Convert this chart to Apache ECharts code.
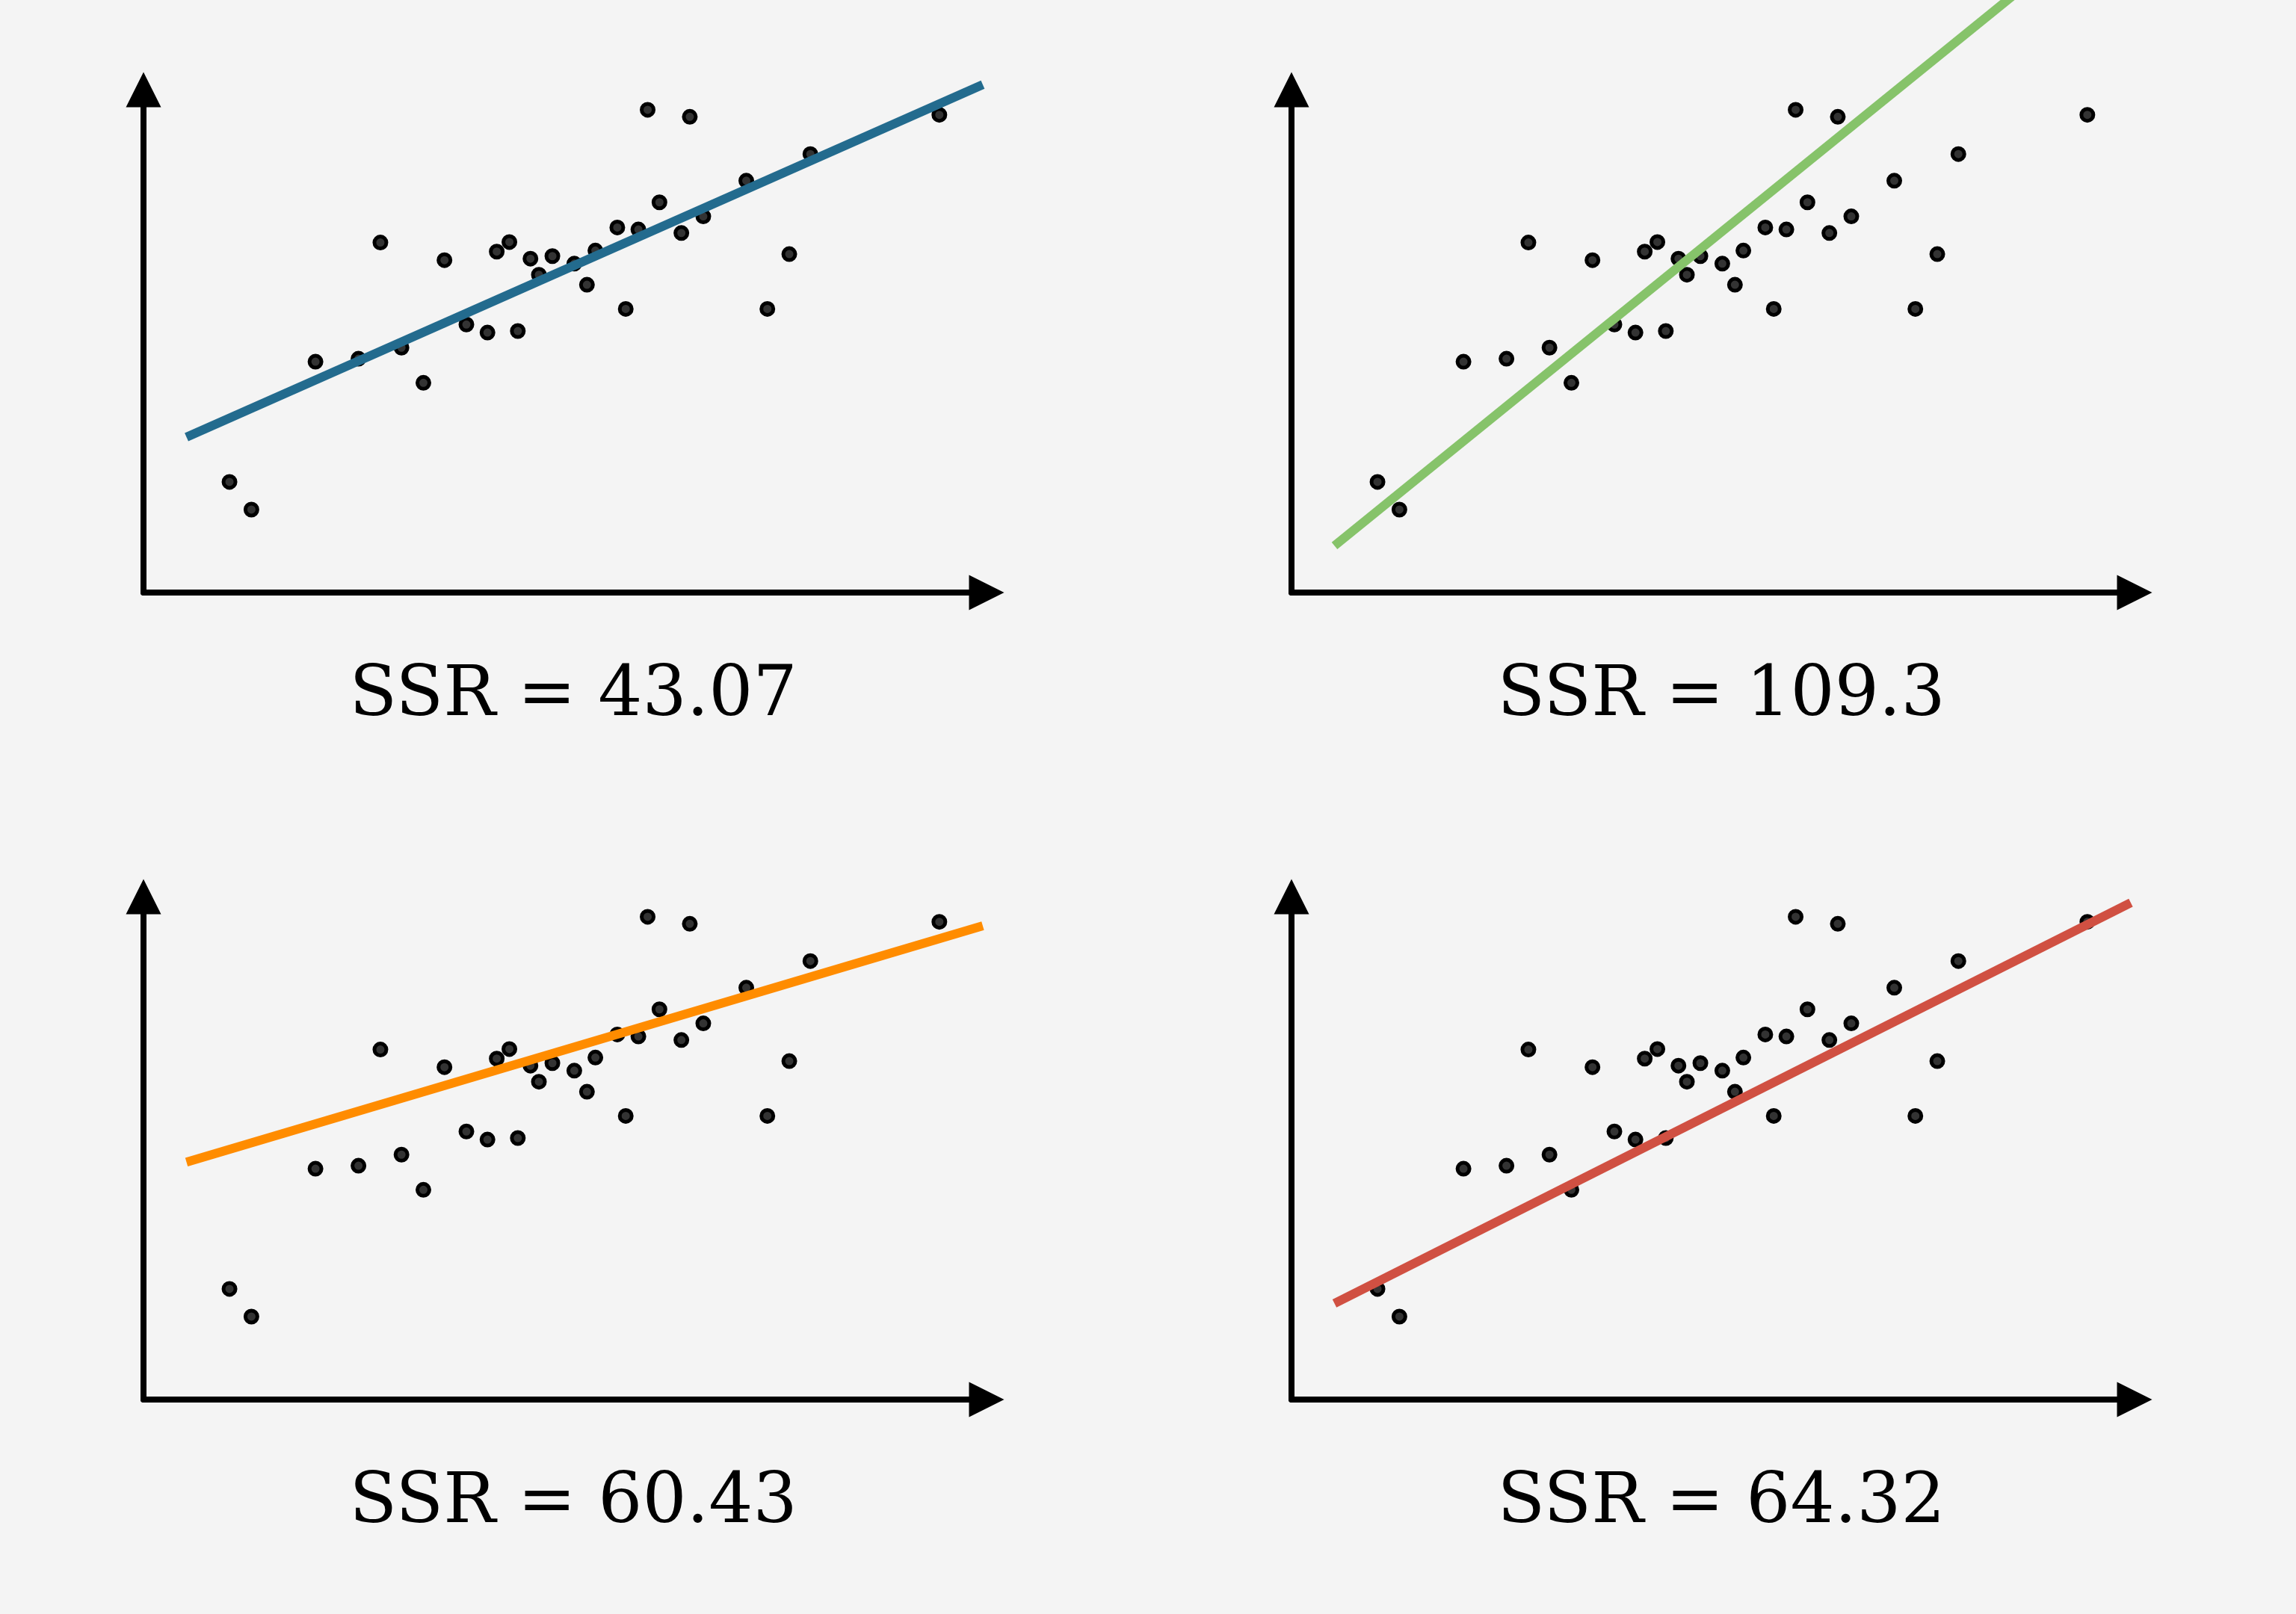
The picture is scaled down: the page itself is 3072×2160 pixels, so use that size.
<!DOCTYPE html>
<html lang="en">
<head>
<meta charset="UTF-8">
<title>Fitted lines and SSR</title>
<script src="https://cdn.jsdelivr.net/npm/echarts@6.0.0/dist/echarts.min.js"></script>
<style>
  html, body { margin: 0; padding: 0; background: #f4f4f4; }
  #main { width: 3072px; height: 2160px; }
</style>
</head>
<body>
<div id="main"></div>
<script type="text/javascript">
// the same 32 points are drawn in all four panels
const pointX = [1.02, 1.28, 2.04, 2.55, 2.81, 3.06, 3.32, 3.57, 3.83, 4.08, 4.19, 4.34, 4.44, 4.59, 4.69, 4.85,
                5.11, 5.26, 5.36, 5.62, 5.72, 5.87, 5.98, 6.12, 6.38, 6.48, 6.64, 7.15, 7.40, 7.66, 7.91, 9.44];
const pointY = [2.20, 1.65, 4.59, 4.65, 6.96, 4.87, 4.17, 6.61, 5.33, 5.17, 6.78, 6.97, 5.20, 6.64, 6.32, 6.69,
                6.54, 6.12, 6.80, 7.26, 5.64, 7.22, 9.60, 7.76, 7.15, 9.46, 7.48, 8.19, 5.64, 6.73, 8.72, 9.50];

// candidate lines: shared x range, start / end y for each panel
const fitX = [0.51, 9.955];
const fitStartY = [3.09, 0.93, 4.72, 1.91];
const fitEndY = [10.10, 13.77, 9.42, 9.88];

const ssrLabels = ['SSR = 43.07', 'SSR = 109.3', 'SSR = 60.43', 'SSR = 64.32'];

const lineColors = ['#236b8e', '#86c36a', '#ff8c00', '#d05042'];

let myChart = echarts.init(document.getElementById('main'));

const points = pointX.map((x, i) => [x, pointY[i]]);

const grids = [];
const xAxes = [];
const yAxes = [];
const series = [];
const texts = [];

ssrLabels.forEach((label, i) => {
    const ox = (i % 2) * 1536;          // panel offset
    const oy = Math.floor(i / 2) * 1080;

    grids.push({ left: ox + 192, top: oy + 120, width: 1128, height: 673 });

    const axisBase = {
        type: 'value', gridIndex: i, min: 0, max: 10,
        axisLine: {
            show: true, onZero: false,
            symbol: ['none', 'triangle'], symbolSize: [47, 47],
            lineStyle: { color: '#000', width: 8 }
        },
        axisTick: { show: false },
        axisLabel: { show: false },
        splitLine: { show: false }
    };
    xAxes.push(axisBase);
    yAxes.push(axisBase);

    series.push({
        type: 'scatter', xAxisIndex: i, yAxisIndex: i,
        data: points,
        symbolSize: 16,
        itemStyle: { color: '#333', borderColor: '#000', borderWidth: 5, opacity: 1 },
        z: 2, silent: true
    });
    series.push({
        type: 'line', xAxisIndex: i, yAxisIndex: i,
        data: [[fitX[0], fitStartY[i]], [fitX[1], fitEndY[i]]],
        showSymbol: false, clip: false,
        lineStyle: { color: lineColors[i], width: 12, cap: 'butt' },
        z: 3, silent: true
    });

    texts.push({
        type: 'text', x: ox + 767, y: oy + 933,
        style: {
            text: label, fill: '#000',
            font: '93px "DejaVu Serif"',
            textAlign: 'center', textVerticalAlign: 'middle'
        }
    });
});

myChart.setOption({
    backgroundColor: '#f4f4f4',
    animation: false,
    grid: grids,
    xAxis: xAxes,
    yAxis: yAxes,
    series: series,
    graphic: texts
});
</script>
</body>
</html>
